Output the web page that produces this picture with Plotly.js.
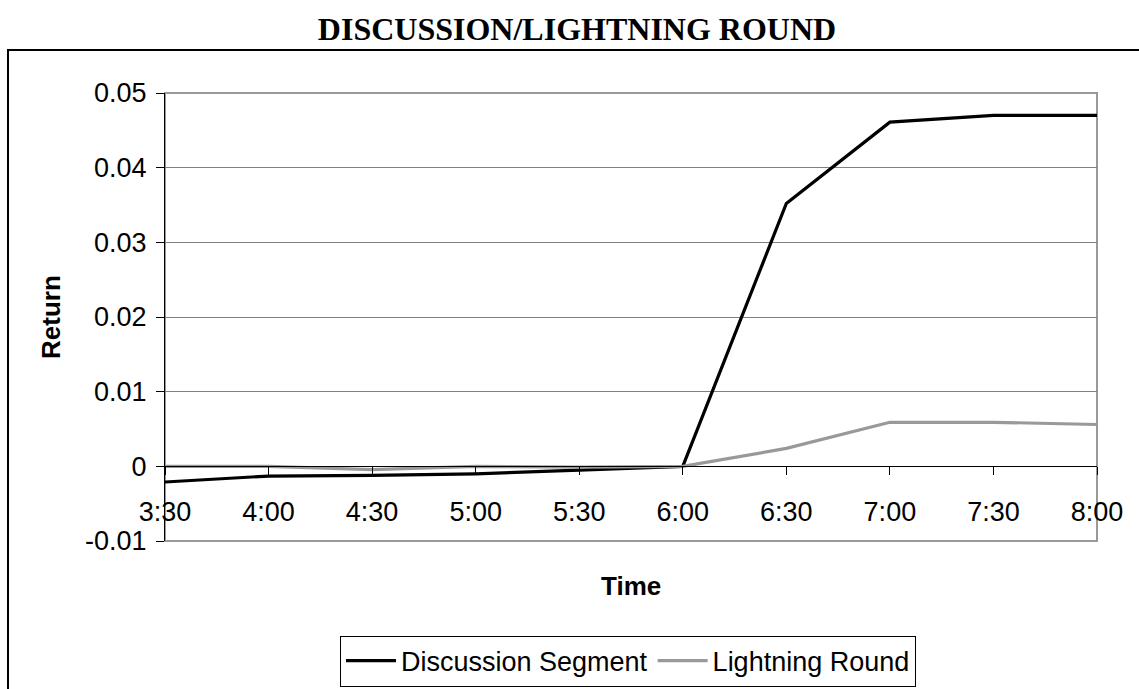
<!DOCTYPE html>
<html>
<head>
<meta charset="utf-8">
<script src="https://cdn.plot.ly/plotly-3.0.1.min.js"></script>
<style>html,body{margin:0;padding:0;background:#fff;}#chart{width:1139px;height:689px;}</style>
</head>
<body>
<div id="chart"></div>
<script>
const categories = ["3:30","4:00","4:30","5:00","5:30","6:00","6:30","7:00","7:30","8:00"];
const discussionSegment = [-0.0021, -0.0013, -0.0012, -0.001, -0.0005, 0, 0.0352, 0.0461, 0.047, 0.047];
const lightningRound = [0, 0, -0.00045, 0, -0.0001, 0, 0.0024, 0.0059, 0.0059, 0.0056];
const yTicks = [-0.01, 0, 0.01, 0.02, 0.03, 0.04, 0.05];
const yTickLabels = ["-0.01", "0", "0.01", "0.02", "0.03", "0.04", "0.05"];

const traces = [
  {x: categories, y: discussionSegment, type: 'scatter', mode: 'lines', name: 'Discussion Segment',
   line: {color: '#000000', width: 3.2}},
  {x: categories, y: lightningRound, type: 'scatter', mode: 'lines', name: 'Lightning Round',
   line: {color: '#999999', width: 3.2}}
];

const layout = {
  width: 1139, height: 689,
  margin: {l: 165, r: 42, t: 93, b: 148, pad: 0, autoexpand: false},
  paper_bgcolor: '#ffffff', plot_bgcolor: '#ffffff',
  font: {family: 'Arial, Liberation Sans, sans-serif', size: 26, color: '#000'},
  title: {text: '<b>DISCUSSION/LIGHTNING ROUND</b>', font: {family: 'Liberation Serif, Times New Roman, serif', size: 32, color: '#000'},
          x: 577/1139, xref: 'container', y: 1 - 29/689, yref: 'container', xanchor: 'center', yanchor: 'middle'},
  showlegend: true,
  legend: {orientation: 'h', x: (628-165)/932, xanchor: 'center', y: (541-661)/448, yanchor: 'middle',
           bordercolor: '#000', borderwidth: 1, bgcolor: '#fff', font: {size: 27, color: '#000'},
           itemwidth: 50, tracegroupgap: 0},
  xaxis: {type: 'category', range: [0, categories.length - 1], anchor: 'free', position: 1/6,
          showline: true, linecolor: '#000', linewidth: 1, ticks: 'outside', ticklen: 8, tickcolor: '#000',
          showgrid: false, zeroline: false, ticklabelstandoff: 13, tickfont: {size: 27}},
  yaxis: {range: [-0.01, 0.05], tickvals: yTicks, ticktext: yTickLabels, showline: true, linecolor: '#000', linewidth: 1,
          ticks: 'outside', ticklen: 8, tickcolor: '#000', showgrid: true, gridcolor: '#808080', gridwidth: 1,
          zeroline: false, ticklabelstandoff: 4, tickfont: {size: 27},
          title: {text: '<b>Return</b>', font: {size: 26}, standoff: 16}},
  shapes: [
    {type: 'rect', xref: 'paper', yref: 'paper', x0: 0, x1: 1, y0: 0, y1: 1, line: {color: '#999999', width: 2}, layer: 'below'},
    {type: 'rect', xref: 'paper', yref: 'paper', x0: (8-165)/932, x1: (1150-165)/932, y0: (541-700)/448, y1: (541-50)/448,
     line: {color: '#000', width: 2}, layer: 'below'}
  ],
  annotations: [
    {text: '<b>Time</b>', xref: 'paper', yref: 'paper', x: 0.5, y: (541-586)/448, xanchor: 'center', yanchor: 'middle',
     showarrow: false, font: {size: 26}}
  ]
};

Plotly.newPlot('chart', traces, layout, {displayModeBar: false, staticPlot: true});
</script>
</body>
</html>
